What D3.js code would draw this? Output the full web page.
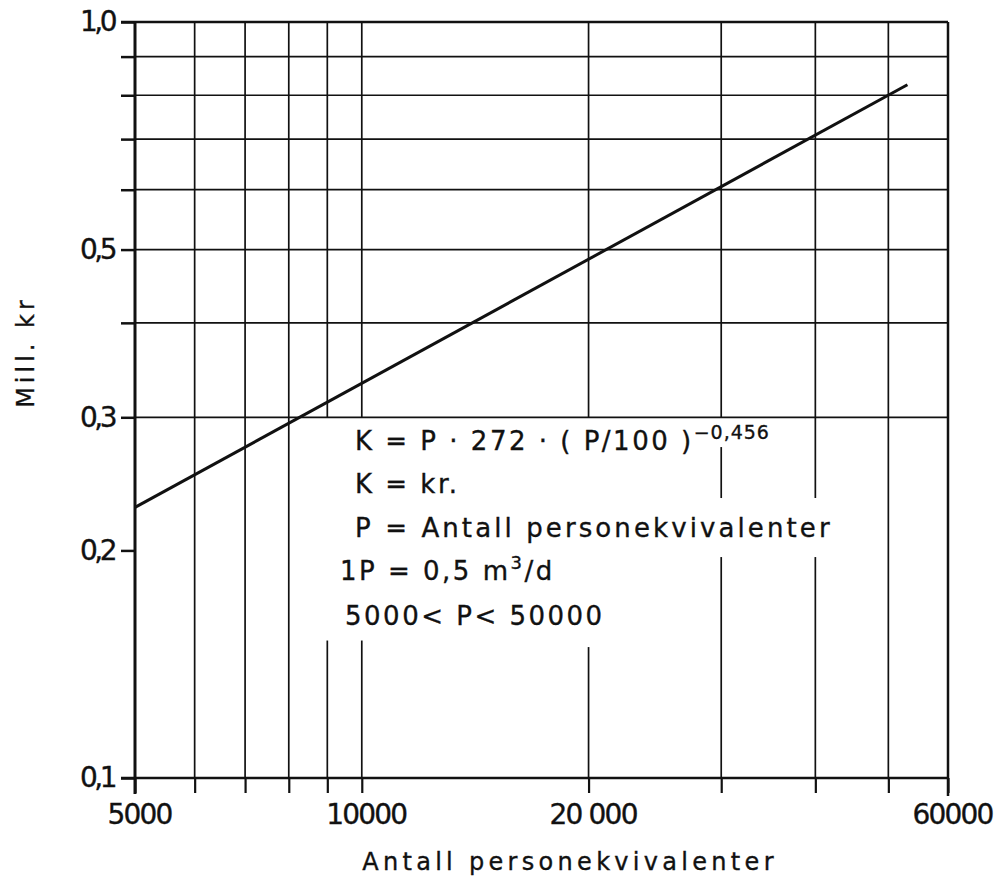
<!DOCTYPE html>
<html>
<head>
<meta charset="utf-8">
<script src="https://cdn.jsdelivr.net/npm/d3@7/dist/d3.min.js"></script>
<style>
  body { margin: 0; background: #fff; }
  text { font-family: "DejaVu Sans", sans-serif; fill: #111; stroke: #111; stroke-width: 0.35; }
</style>
</head>
<body>
<div id="chart"></div>
<script>
// data
var xTicks = [5000, 6000, 7000, 8000, 9000, 10000, 20000, 30000, 40000, 50000, 60000];
var xLabels = {5000: "5000", 10000: "10000", 20000: "20 000", 60000: "60000"};
var yTicks = [0.1, 0.2, 0.3, 0.4, 0.5, 0.6, 0.7, 0.8, 0.9, 1.0];
var yLabels = {0.1: "0,1", 0.2: "0,2", 0.3: "0,3", 0.5: "0,5", 1: "1,0"};
var hGrid = [0.3, 0.4, 0.5, 0.6, 0.7, 0.8, 0.9];
// vertical grid lines are broken where the note text sits (K values)
var gridGaps = [
  {p: 9000, from: 0.152, to: 0.3},
  {p: 10000, from: 0.152, to: 0.3},
  {p: 20000, from: 0.149, to: 0.3},
  {p: 30000, from: 0.274, to: 0.3},
  {p: 30000, from: 0.196, to: 0.2346},
  {p: 40000, from: 0.196, to: 0.2346}
];
var lineP = [5000, 53000];
var lineK = [0.228, 0.826];
var xTitle = "Antall personekvivalenter";
var yTitle = "Mill. kr";

var margin = {top: 22, right: 50, bottom: 105, left: 135}
  , width = 998 - margin.left - margin.right
  , height = 883 - margin.top - margin.bottom;

var x = d3.scaleLog().domain([5000, 60000]).range([0, width]);
var y = d3.scaleLog().domain([0.1, 1]).range([height, 0]);

var svg = d3.select("#chart").append("svg")
    .attr("width", 998)
    .attr("height", 883)
  .append("g")
    .attr("transform", "translate(" + margin.left + "," + margin.top + ")");

// vertical grid, split into pieces around the gaps
xTicks.forEach(function(p) {
  var gaps = gridGaps.filter(function(g) { return g.p === p; })
    .sort(function(a, b) { return a.from - b.from; });
  var start = 0.1;
  var segs = [];
  gaps.forEach(function(g) { segs.push([start, g.from]); start = g.to; });
  segs.push([start, 1]);
  segs.forEach(function(s) {
    svg.append("line")
      .attr("x1", x(p)).attr("x2", x(p))
      .attr("y1", y(s[0])).attr("y2", y(s[1]))
      .attr("stroke", "#111")
      .attr("stroke-width", 1.7);
  });
});

// horizontal grid
svg.selectAll(".hgrid")
  .data(hGrid)
  .enter().append("line")
    .attr("class", "hgrid")
    .attr("x1", 0).attr("x2", width)
    .attr("y1", function(d) { return y(d); })
    .attr("y2", function(d) { return y(d); })
    .attr("stroke", "#111")
    .attr("stroke-width", 1.7);

// axes
var xAxis = svg.append("g")
    .attr("transform", "translate(0," + height + ")")
    .call(d3.axisBottom(x)
      .tickValues(xTicks)
      .tickSize(15)
      .tickPadding(11)
      .tickFormat(function(d) { return xLabels[d] || ""; }));
xAxis.select(".domain").remove();
xAxis.selectAll("line").attr("stroke", "#111").attr("stroke-width", 2.2);
xAxis.selectAll("text")
    .attr("font-size", 28)
    .attr("letter-spacing", -1.8)
    .attr("font-family", "DejaVu Sans")
    .attr("dx", 4)
    .attr("fill", "#111");

var yAxis = svg.append("g")
    .call(d3.axisLeft(y)
      .tickValues(yTicks)
      .tickSize(14)
      .tickPadding(7)
      .tickFormat(function(d) { return yLabels[d] || ""; }));
yAxis.select(".domain").remove();
yAxis.selectAll("line").attr("stroke", "#111").attr("stroke-width", 2.5);
yAxis.selectAll("text")
    .attr("font-size", 28)
    .attr("letter-spacing", -3.5)
    .attr("font-family", "DejaVu Sans")
    .attr("fill", "#111");

// frame
svg.append("line").attr("x1", 0).attr("x2", 0).attr("y1", y(1)).attr("y2", y(0.1) + 16)
  .attr("stroke", "#111").attr("stroke-width", 3);
svg.append("line").attr("x1", -14).attr("x2", width).attr("y1", y(0.1)).attr("y2", y(0.1))
  .attr("stroke", "#111").attr("stroke-width", 2.5);
svg.append("line").attr("x1", -14).attr("x2", width).attr("y1", y(1)).attr("y2", y(1))
  .attr("stroke", "#111").attr("stroke-width", 2.5);
svg.append("line").attr("x1", width).attr("x2", width).attr("y1", y(1)).attr("y2", y(0.1) + 18)
  .attr("stroke", "#111").attr("stroke-width", 2.5);

// cost line
var pts = lineP.map(function(p, i) { return [p, lineK[i]]; });
svg.append("path")
  .datum(pts)
  .attr("fill", "none")
  .attr("stroke", "#111")
  .attr("stroke-width", 3)
  .attr("d", d3.line()
    .x(function(d) { return x(d[0]); })
    .y(function(d) { return y(d[1]); }));

// note block
var note = svg.append("g").attr("font-size", 26).attr("letter-spacing", 2.5);
var t1 = note.append("text").attr("x", 220).attr("y", 428);
t1.append("tspan").text("K = P \u00b7 272 \u00b7 ( P/100 )");
t1.append("tspan").attr("dy", -11).attr("font-size", 19).attr("letter-spacing", 1).text("\u22120,456");
note.append("text").attr("x", 220).attr("y", 471).text("K = kr.");
note.append("text").attr("x", 220).attr("y", 515).attr("letter-spacing", 3.1).text("P = Antall personekvivalenter");
var t4 = note.append("text").attr("x", 205).attr("y", 558);
t4.append("tspan").text("1P = 0,5 m");
t4.append("tspan").attr("dy", -11).attr("font-size", 18).text("3");
t4.append("tspan").attr("dy", 11).text("/d");
note.append("text").attr("x", 210).attr("y", 603).text("5000< P< 50000");

// axis titles
svg.append("text")
  .attr("x", 435).attr("y", 848)
  .attr("text-anchor", "middle")
  .attr("font-size", 24)
  .attr("letter-spacing", 4.3)
  .text(xTitle);

svg.append("text")
  .attr("transform", "translate(-101,330) rotate(-90)")
  .attr("text-anchor", "middle")
  .attr("font-size", 24)
  .attr("letter-spacing", 4)
  .text(yTitle);
</script>
</body>
</html>
